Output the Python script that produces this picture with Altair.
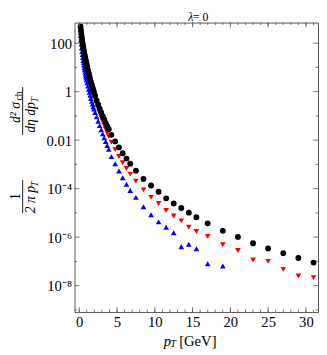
import altair as alt
import pandas as pd

# ---- data ----
pt_low = [0.175, 0.225, 0.275, 0.325, 0.375, 0.425, 0.475, 0.525, 0.575, 0.625,
          0.675, 0.725, 0.775, 0.825, 0.875, 0.925, 0.975,
          1.05, 1.15, 1.25, 1.35, 1.45, 1.55, 1.65, 1.75, 1.85, 1.95,
          2.1, 2.3, 2.5, 2.7, 2.9, 3.1, 3.3, 3.5, 3.7, 3.9]
pt_mid = [4.25, 4.75, 5.25, 5.75, 6.25, 6.75, 7.5, 8.5, 9.5, 10.5, 11.5, 12.5,
          13.5, 14.5, 15.5, 17, 19]
pt_high = [21, 23, 25, 27, 29, 31]

# log10 of 1/(2 pi pT) d2sigma/deta dpT
black_log = [2.68, 2.52, 2.38, 2.25, 2.13, 2.02, 1.92, 1.82, 1.73, 1.64,
             1.56, 1.48, 1.40, 1.33, 1.26, 1.19, 1.12,
             1.02, 0.89, 0.76, 0.64, 0.52, 0.40, 0.29, 0.18, 0.08, -0.02,
             -0.17, -0.36, -0.54, -0.70, -0.86, -1.01, -1.15, -1.29, -1.42, -1.55,
             -1.78, -2.05, -2.30, -2.54, -2.76, -2.97, -3.26, -3.60, -3.87, -4.13, -4.40, -4.61,
             -4.80, -4.99, -5.18, -5.43, -5.74,
             -5.99, -6.25, -6.47, -6.66, -6.86, -7.05]
red_log = [2.68, 2.52, 2.38, 2.25, 2.13, 2.02, 1.91, 1.81, 1.72, 1.63,
           1.54, 1.46, 1.38, 1.30, 1.23, 1.16, 1.09,
           0.98, 0.84, 0.71, 0.58, 0.45, 0.33, 0.21, 0.09, -0.02, -0.13,
           -0.29, -0.50, -0.70, -0.88, -1.06, -1.23, -1.39, -1.55, -1.70, -1.84,
           -2.08, -2.39, -2.67, -2.93, -3.17, -3.40, -3.69, -4.05, -4.36, -4.61, -4.90, -5.13,
           -5.33, -5.59, -5.77, -5.97, -6.31,
           -6.55, -6.94, -7.00, -7.33, -7.60, -7.67]
blue_log = [2.32, 2.13, 1.96, 1.80, 1.66, 1.53, 1.41, 1.30, 1.19, 1.09,
            0.99, 0.90, 0.81, 0.72, 0.64, 0.56, 0.48,
            0.37, 0.23, 0.10, -0.03, -0.15, -0.28, -0.40, -0.51, -0.62, -0.72,
            -0.86, -1.04, -1.22, -1.40, -1.57, -1.74, -1.90, -2.06, -2.22, -2.38,
            -2.68, -2.97, -3.27, -3.55, -3.82, -4.08, -4.36, -4.75, -5.08, -5.37, -5.59, -5.82,
            -6.40, -6.29, -6.48, -7.10, -7.19]

x_major = [0, 5, 10, 15, 20, 25, 30]
x_minor = list(range(0, 32))
y_major = [1e2, 1e0, 1e-2, 1e-4, 1e-6, 1e-8]
y_minor = [1e1, 1e-1, 1e-3, 1e-5, 1e-7, 1e-9]

pts_all = pt_low + pt_mid + pt_high
rows = []
for s, vals, pts in [("blue", blue_log, pt_low + pt_mid),
                     ("red", red_log, pts_all),
                     ("black", black_log, pts_all)]:
    for p, v in zip(pts, vals):
        rows.append({"pt": p, "y": 10 ** v, "s": s})
df = pd.DataFrame(rows)

W, H = 249, 296
XD = [-0.63, 31.6]
YD = [10 ** -9.09, 10 ** 2.85]
FONT = "Liberation Serif"

xs = alt.Scale(domain=XD, nice=False, zero=False)
ys = alt.Scale(type="log", domain=YD, nice=False)

base = alt.Chart(df)

ylabel_expr = ("datum.value >= 0.5 ? format(datum.value, 'd') : "
               "(datum.value > 0.005 ? '0.01' : "
               "'10' + replace(replace(replace(replace(replace('' + round(log(datum.value)/LN10), "
               "'-', '⁻'), '4', '⁴'), '6', '⁶'), '8', '⁸'), '2', '²'))")


def series(color, shape, size):
    return base.transform_filter(alt.datum.s == color).mark_point(
        filled=True, shape=shape, size=size, opacity=1, color=color, strokeWidth=0
    ).encode(
        x=alt.X("pt:Q", scale=xs,
                axis=alt.Axis(values=x_major, ticks=False, domain=False, grid=False,
                              labelFont=FONT, labelFontSize=15, labelColor="#000",
                              labelPadding=3, title=None)),
        y=alt.Y("y:Q", scale=ys,
                axis=alt.Axis(values=y_major, ticks=False, domain=False, grid=False,
                              labelFont=FONT, labelFontSize=15, labelColor="#000",
                              labelPadding=3, title=None, labelExpr=ylabel_expr)),
    )


blue = series("blue", "triangle-up", 34)
red = series("red", "triangle-down", 34)
black = series("black", "circle", 36)

# frame ticks (inside)
tx_major = pd.DataFrame({"v": x_major})
tx_minor = pd.DataFrame({"v": x_minor})
ty_major = pd.DataFrame({"v": y_major})
ty_minor = pd.DataFrame({"v": y_minor})
TC = "#555555"


def xticks(d, length):
    b = alt.Chart(d).mark_rule(color=TC, strokeWidth=0.8)
    bot = b.encode(x=alt.X("v:Q", scale=xs), y=alt.value(H), y2=alt.value(H - length))
    top = b.encode(x=alt.X("v:Q", scale=xs), y=alt.value(0), y2=alt.value(length))
    return bot + top


def yticks(d, length):
    b = alt.Chart(d).mark_rule(color=TC, strokeWidth=0.8)
    left = b.encode(y=alt.Y("v:Q", scale=ys), x=alt.value(0), x2=alt.value(length))
    right = b.encode(y=alt.Y("v:Q", scale=ys), x=alt.value(W), x2=alt.value(W - length))
    return left + right


ticks = xticks(tx_major, 5) + xticks(tx_minor, 2.5) + yticks(ty_major, 5) + yticks(ty_minor, 2.5)

# text annotations
ann = pd.DataFrame({"k": [0]})


def txt(text, x, y, size=14, style="normal", angle=0, align="center"):
    return alt.Chart(ann).mark_text(
        text=text, font=FONT, fontSize=size, fontStyle=style, angle=angle,
        align=align, baseline="middle", color="#000"
    ).encode(x=alt.value(x), y=alt.value(y))


def bar(x, y1, y2):
    return alt.Chart(ann).mark_rule(color="#000", strokeWidth=0.9).encode(
        x=alt.value(x), y=alt.value(y1), y2=alt.value(y2))


texts = (
    txt("λ", 119, -6, 12, "italic") + txt("= 0", 129, -6, 12)
    + txt("p", 95, 326, 15, "italic") + txt("T", 101, 329, 10, "italic")
    + txt("[GeV]", 107, 326, 15, align="left")
    # y title: 1 / (2 pi pT)
    + txt("1", -60, 178, 14, angle=270)
    + bar(-53, 161, 195)
    + txt("2 π p", -44, 181, 14, "italic", angle=270)
    + txt("T", -40, 165, 10, "italic", angle=270)
    # d2 sigma_ch / (d eta d pT)
    + txt("d² σ", -60, 92, 14, "italic", angle=270)
    + txt("ch", -57, 75, 10, angle=270)
    + bar(-53, 66, 115)
    + txt("dη dp", -44, 97, 14, "italic", angle=270)
    + txt("T", -40, 79, 10, "italic", angle=270)
)

chart = alt.layer(blue, red, black, ticks, texts).properties(
    width=W, height=H,
    autosize=alt.AutoSizeParams(type="none"),
    padding={"left": 68, "top": 11, "right": 1, "bottom": 40},
).configure_view(stroke="#555555", strokeWidth=1)

chart.save("out.html", embed_options={"renderer": "svg", "actions": False})
